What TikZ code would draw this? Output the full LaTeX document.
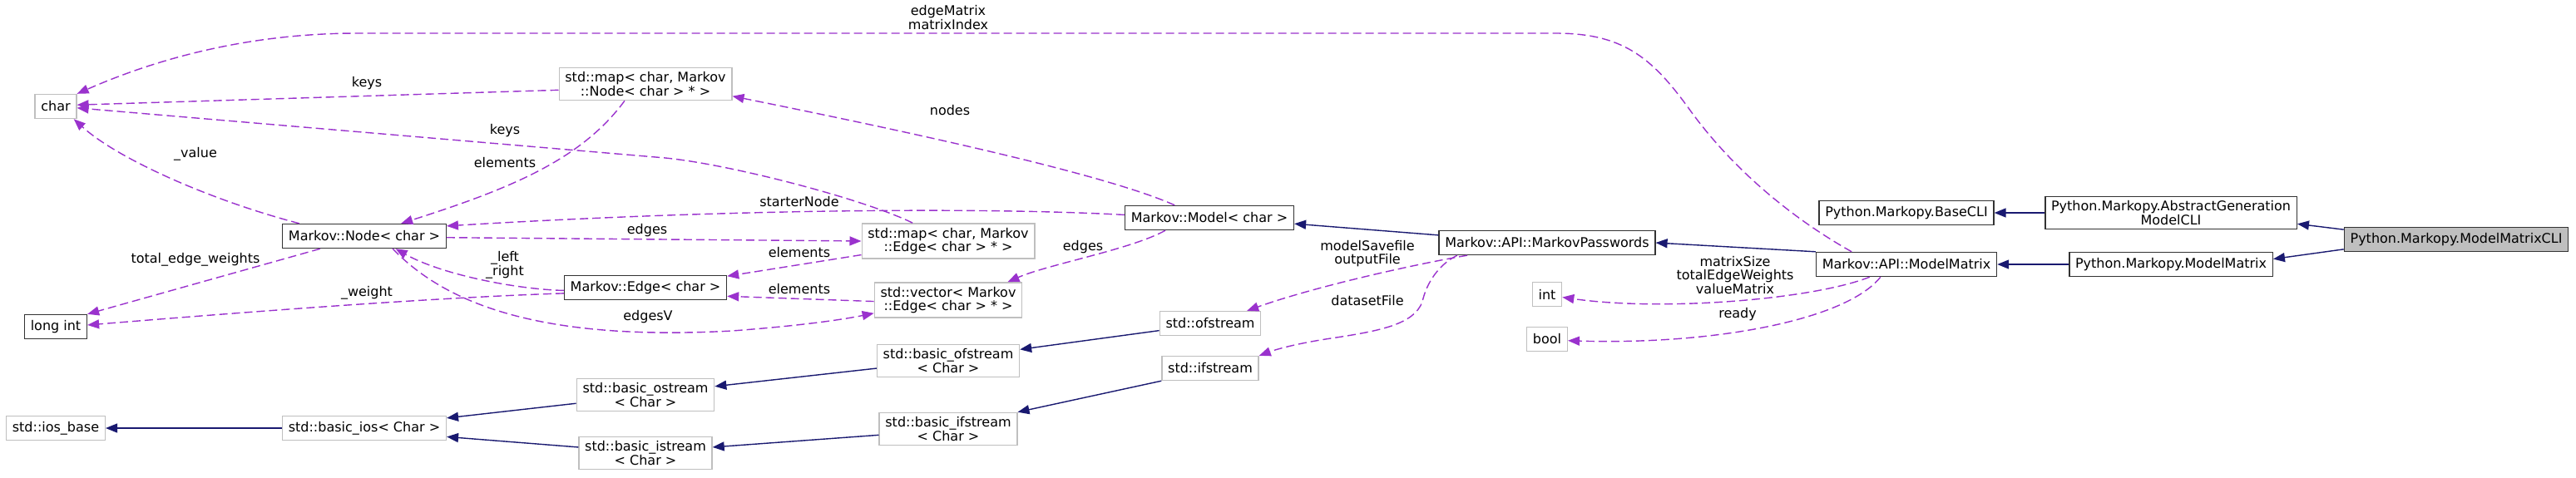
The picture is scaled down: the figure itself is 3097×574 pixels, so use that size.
\documentclass[tikz,border=0pt]{standalone}
\usepackage{fontspec}
\setmainfont{DejaVu Sans}
\usepackage{xcolor}
\usepackage{tikz}
\usetikzlibrary{arrows.meta}

\definecolor{usecol}{HTML}{9A32CD}
\definecolor{inhcol}{HTML}{191970}
\definecolor{undoc}{HTML}{BFBFBF}

\begin{document}
\begin{tikzpicture}[
      x=0.5pt, y=-0.5pt,
      font=\fontsize{8}{8.4}\selectfont,
      box/.style={draw=black!80, line width=0.7pt, fill=white, minimum
        height=14.5pt, inner xsep=3.6pt, inner ysep=2.5pt, align=center},
      ubox/.style={box, draw=undoc},
      rootbox/.style={box, fill=undoc},
      dep/.style={draw=usecol, line width=0.7pt, dash pattern=on 5pt off 2.5pt,
        -{Triangle[length=7pt, width=5.5pt]}},
      inh/.style={draw=inhcol, line width=0.7pt,
        -{Triangle[length=7pt, width=5.5pt]}},
      lbl/.style={align=center, inner sep=0pt}
    ]
    \useasboundingbox (0,0) rectangle (3097,574);

    % classes
    \node[ubox] (char)      at (67,128)   {char};
    \node[ubox] (mapnode)   at (776,101)  {std::map< char, Markov\\::Node< char > * >};
    \node[box]  (mnode)     at (438,284)  {Markov::Node< char >};
    \node[box]  (longint)   at (67,393)   {long int};
    \node[ubox] (iosbase)   at (67,515)   {std::ios\_base};
    \node[ubox] (basicios)  at (438,515)  {std::basic\_ios< Char >};
    \node[ubox] (ostream)   at (776,475)  {std::basic\_ostream\\< Char >};
    \node[ubox] (istream)   at (776,545)  {std::basic\_istream\\< Char >};
    \node[box]  (medge)     at (776,346)  {Markov::Edge< char >};
    \node[ubox] (mapedge)   at (1140,290) {std::map< char, Markov\\::Edge< char > * >};
    \node[ubox] (vecedge)   at (1140,361) {std::vector< Markov\\::Edge< char > * >};
    \node[ubox] (ofstreamb) at (1140,434) {std::basic\_ofstream\\< Char >};
    \node[ubox] (ifstreamb) at (1140,516) {std::basic\_ifstream\\< Char >};
    \node[box]  (model)     at (1454,262) {Markov::Model< char >};
    \node[box]  (passwords) at (1860,292) {Markov::API::MarkovPasswords};
    \node[ubox] (ofs)       at (1455,389) {std::ofstream};
    \node[ubox] (ifs)       at (1455,443) {std::ifstream};
    \node[ubox] (intt)      at (1860,354) {int};
    \node[ubox] (boolt)     at (1860,408) {bool};
    \node[box]  (apimatrix) at (2292,318) {Markov::API::ModelMatrix};
    \node[box]  (basecli)   at (2292,256) {Python.Markopy.BaseCLI};
    \node[box]  (abstractcli) at (2610,256) {Python.Markopy.AbstractGeneration\\ModelCLI};
    \node[box]  (pymatrix)  at (2610,318) {Python.Markopy.ModelMatrix};
    \node[rootbox] (matrixcli) at (2953,288) {Python.Markopy.ModelMatrixCLI};

    % inheritance
    \draw[inh] (basicios.west) -- (iosbase.east);
    \draw[inh] (ostream.187) -- (basicios.7);
    \draw[inh] (istream.175) -- (basicios.-6);
    \draw[inh] (ofstreamb.186) -- (ostream.7);
    \draw[inh] (ifstreamb.185) -- (istream.5);
    \draw[inh] (ofs.188) -- (ofstreamb.9);
    \draw[inh] (ifs.south west) -- (ifstreamb.north east);
    \draw[inh] (passwords.176) -- (model.-4);
    \draw[inh] (apimatrix.north west) -- (passwords.east);
    \draw[inh] (abstractcli.west) -- (basecli.east);
    \draw[inh] (pymatrix.west) -- (apimatrix.east);
    \draw[inh] (matrixcli.175) -- (abstractcli.-5);
    \draw[inh] (matrixcli.185) -- (pymatrix.3);

    % usage
    \draw[dep] (apimatrix.167) .. controls (2150,260) and (2080,200) .. (2030,130)
      .. controls (1985,68) and (1950,40) .. (1870,40) -- (430,40)
      .. controls (300,40) and (190,70) .. (char.north east);
    \draw[dep] (mapnode.184) -- (char.4);
    \draw[dep] (mapedge.153) .. controls (1040,240) and (880,198) .. (800,190) -- (char.-4);
    \draw[dep] (mapnode.219) .. controls (700,190) and (620,225) .. (mnode.19);
    \draw[dep] (model.178) .. controls (1200,250) and (900,250) .. (mnode.7);
    \draw[dep] (model.160) .. controls (1330,210) and (1100,160) .. (mapnode.-8);
    \draw[dep] (model.196) .. controls (1360,300) and (1260,318) .. (vecedge.17);
    \draw[dep] (mnode.-1) -- (mapedge.west);
    \draw[dep] (mapedge.189) -- (medge.8.5);
    \draw[dep] (vecedge.181) -- (medge.-6);
    \draw[dep] (mnode.-24) .. controls (540,370) and (660,410) .. (880,398)
      .. controls (960,392) and (1010,385) .. (vecedge.190);
    \draw[dep] (medge.182) .. controls (620,348) and (530,330) .. (mnode.-22);
    \draw[dep] (medge.184) .. controls (520,358) and (300,375) .. (longint.3);
    \draw[dep] (mnode.169) .. controls (250,240) and (140,190) .. (char.-35);
    \draw[dep] (mnode.196) -- (longint.north east);
    \draw[dep] (passwords.189.5) .. controls (1700,318) and (1580,345) .. (ofs.19);
    \draw[dep] (passwords.188.4) .. controls (1730,318) and (1715,340) .. (1710,363)
      .. controls (1700,390) and (1660,398) .. (1600,407)
      .. controls (1560,413) and (1535,420) .. (ifs.north east);
    \draw[dep] (apimatrix.199) .. controls (2180,360) and (2000,375) .. (intt.-11);
    \draw[dep] (apimatrix.206) .. controls (2220,385) and (2060,415) .. (boolt.-4);

    % labels
    \node[lbl] (lmatrix)  at (1140,21)  {edgeMatrix\\matrixIndex};
    \node[lbl] (lkeysa)   at (441,100)  {keys};
    \node[lbl] (lkeysb)   at (607,157)  {keys};
    \node[lbl] (lelema)   at (607,196)  {elements};
    \node[lbl] (lstarter) at (961,243)  {starterNode};
    \node[lbl] (lnodes)   at (1142,133) {nodes};
    \node[lbl] (ledgesa)  at (1302,297) {edges};
    \node[lbl] (ledgesb)  at (778,277)  {edges};
    \node[lbl] (lelemb)   at (961,304)  {elements};
    \node[lbl] (lelemc)   at (961,348)  {elements};
    \node[lbl] (ledgesv)  at (779,381)  {edgesV};
    \node[lbl] (lleft)    at (607,319)  {\_left\\\_right};
    \node[lbl] (lweight)  at (441,352)  {\_weight};
    \node[lbl] (lvalue)   at (235,185)  {\_value};
    \node[lbl] (ltotal)   at (235,312)  {total\_edge\_weights};
    \node[lbl] (lsave)    at (1644,305) {modelSavefile\\outputFile};
    \node[lbl] (ldataset) at (1644,362) {datasetFile};
    \node[lbl] (lmsize)   at (2086,331) {matrixSize\\totalEdgeWeights\\valueMatrix};
    \node[lbl] (lready)   at (2089,378) {ready};
  \end{tikzpicture}
\end{document}
